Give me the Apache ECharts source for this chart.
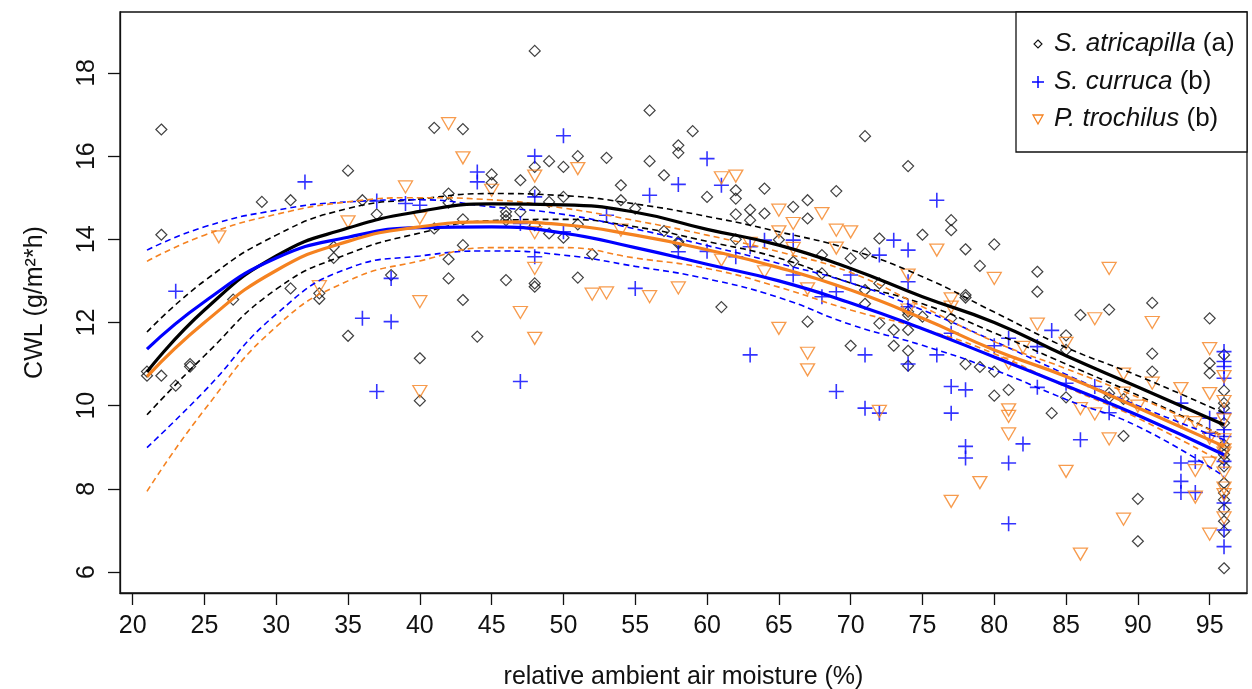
<!DOCTYPE html>
<html><head><meta charset="utf-8">
<script src="https://cdn.jsdelivr.net/npm/echarts@6/dist/echarts.min.js"></script>
<style>html,body{margin:0;padding:0;background:#fff}#c{width:1252px;height:689px}</style>
</head><body><div id="c"></div>
<script>
// ---- tick labels ----
const xTicks = [20,25,30,35,40,45,50,55,60,65,70,75,80,85,90,95];
const yTicks = [6,8,10,12,14,16,18];

// ---- observed points [air moisture %, CWL] ----
const atricapilla = [[21,10.82],[21,10.72],[22,16.64],[22,14.11],[22,10.72],[23,10.48],[24,11.0],[24,10.94],[27,12.55],[29,14.9],[31,14.94],[31,12.82],[33,12.7],[33,12.57],[34,13.82],[34,13.55],[35,15.65],[35,11.68],[36,14.94],[37,14.6],[38,13.14],
[40,11.14],[40,10.12],[41,16.68],[41,14.26],[42,15.1],[42,14.88],[42,13.52],[42,13.06],[43,16.65],[43,14.48],[43,13.86],[43,12.54],[44,11.66],[45,15.56],[45,15.36],[46,14.66],[46,14.56],[46,14.46],[46,13.02],[47,15.42],[47,14.66],[48,18.53],[48,15.74],[48,15.14],[48,14.34],[48,12.94],[48,12.86],[49,15.88],[49,14.9],[49,14.14],[50,15.74],[50,15.02],[50,14.04],[51,16.0],[51,14.36],[51,13.08],[52,13.64],[53,15.96],[54,15.3],[54,14.94],[55,14.74],[56,17.1],[56,15.88],[57,15.54],[57,14.2],[58,16.26],[58,16.08],[58,13.94],[58,13.9],[59,16.6],[60,15.02],[61,12.37],[62,15.18],[62,14.98],[62,14.6],[62,14.0],[63,14.71],[63,14.46],[64,15.22],[64,14.62],[65,13.99],[66,14.78],[66,13.46],[67,14.94],[67,14.5],[67,12.02],[68,13.62],[68,13.18],[69,15.16],[70,13.54],[70,11.44],[71,16.48],[71,13.66],[71,12.78],[71,12.45],[72,14.02],[72,12.94],[72,11.98],[73,11.82],[73,11.44],[74,15.76],[74,12.26],[74,12.18],[74,11.82],[74,11.32],[74,10.96],[75,14.11],[75,12.14],[77,14.46],[77,14.22],[77,12.1],[78,13.76],[78,12.66],[78,12.6],[78,11.0],[79,13.36],[79,10.93],[80,13.88],[80,10.82],[80,10.24],[81,10.38],[83,13.22],[83,12.74],[84,9.82],[85,11.69],[85,11.34],[85,10.2],[86,12.18],[88,12.31],[88,10.3],[88,10.2],[89,10.16],[89,9.27],[90,7.76],[90,6.74],[91,12.47],[91,11.25],[91,10.82],[95,12.1],[95,11.02],[95,10.78],[96,11.22],[96,10.36],[96,10.06],[96,9.94],[96,9.58],[96,9.06],[96,8.94],[96,8.82],[96,8.70],[96,8.54],[96,8.14],[96,7.9],[96,7.74],[96,7.5],[96,7.22],[96,6.97],[96,6.09]];

const curruca = [[23,12.75],[32,15.38],[36,12.1],[37,14.92],[37,10.34],[38,13.06],[38,12.02],[39,14.86],[40,14.82],[44,15.62],[44,15.38],[47,14.38],[47,10.58],[48,16.0],[48,15.02],[48,13.58],[50,16.49],[50,14.18],[53,14.58],[55,12.82],[56,15.06],[58,15.32],[58,13.7],[60,15.94],[60,13.71],[61,15.3],[62,13.58],[63,13.82],[63,11.22],[64,13.98],[66,13.98],[66,13.14],[68,12.62],[69,12.74],[69,10.34],[70,13.14],[71,11.22],[71,9.94],[72,13.62],[72,9.82],[73,13.98],[74,13.74],[74,12.98],[74,12.38],[74,11.0],[76,14.94],[76,11.22],[77,11.74],[77,10.46],[77,9.82],[78,10.38],[78,9.02],[78,8.74],[80,11.44],[81,11.62],[81,8.62],[81,7.16],[82,9.08],[83,11.42],[83,10.44],[84,11.81],[85,10.54],[86,9.18],[87,10.46],[88,9.83],[93,10.06],[93,8.62],[93,8.18],[93,7.91],[94,8.66],[94,7.91],[95,9.7],[95,9.34],[96,11.3],[96,11.06],[96,10.94],[96,10.66],[96,9.82],[96,9.42],[96,9.26],[96,8.66],[96,7.66],[96,7.01],[96,6.61]];

const trochilus = [[26,14.06],[33,12.86],[35,14.42],[39,15.26],[40,14.51],[40,12.5],[40,10.34],[42,16.78],[43,15.96],[45,15.18],[47,12.24],[48,15.52],[48,14.16],[48,13.3],[48,11.62],[51,15.7],[52,12.68],[53,12.71],[54,14.22],[56,12.62],[58,12.83],[61,15.48],[61,13.5],[62,15.52],[63,13.9],[64,13.22],[65,14.7],[65,14.18],[65,11.86],[66,14.38],[66,13.78],[67,12.81],[67,11.26],[67,10.86],[68,14.62],[69,14.22],[69,13.79],[70,14.18],[72,9.86],[74,13.14],[74,12.3],[76,13.74],[77,12.57],[77,12.37],[77,7.7],[79,8.15],[80,13.06],[81,11.02],[81,9.9],[81,9.74],[81,9.32],[82,11.4],[83,11.96],[85,11.5],[85,8.42],[86,9.93],[86,6.43],[87,12.09],[87,9.8],[88,13.3],[88,9.2],[89,10.76],[89,10.3],[89,7.27],[90,9.99],[91,12.0],[91,10.54],[93,10.41],[93,9.61],[94,9.59],[94,8.44],[94,7.8],[95,11.37],[95,10.29],[95,9.22],[95,8.62],[95,6.91],[96,10.7],[96,10.1],[96,9.66],[96,9.18],[96,8.94],[96,8.86],[96,8.38],[96,8.02],[96,7.86],[96,7.3]];

// ---- fitted curves and confidence bands (read at these x) ----
const fitX    = [21,25,30,35,40,45,50,55,60,65,70,75,80,85,90,96];
const atriFit = [10.81,12.3,13.6,14.27,14.67,14.85,14.83,14.65,14.24,13.86,13.3,12.62,12.0,11.2,10.45,9.54];
const atriHi  = [11.77,13.0,14.1,14.74,14.97,15.1,15.05,14.85,14.55,14.18,13.75,13.1,12.25,11.4,10.72,9.82];
const atriLo  = [9.78,11.2,12.8,13.65,14.15,14.45,14.48,14.3,13.95,13.55,12.95,12.45,11.75,11.0,10.25,9.26];
const curFit  = [11.36,12.5,13.55,14.05,14.28,14.3,14.15,13.8,13.4,13.0,12.47,11.85,11.17,10.48,9.77,8.82];
const curHi   = [13.74,14.3,14.7,14.9,14.95,14.78,14.6,14.25,13.85,13.42,12.95,12.3,11.55,10.75,10.0,9.18];
const curLo   = [8.99,10.35,12.2,13.3,13.6,13.72,13.62,13.35,13.05,12.6,11.95,11.45,10.86,10.15,9.5,8.30];
const troFit  = [10.7,12.0,13.25,13.95,14.3,14.42,14.35,14.1,13.75,13.32,12.78,12.1,11.34,10.7,9.95,9.02];
const troHi   = [13.47,14.1,14.6,14.9,15.0,14.95,14.75,14.45,14.1,13.7,13.2,12.38,11.54,10.89,10.2,9.26];
const troLo   = [7.94,9.9,11.9,13.0,13.48,13.8,13.8,13.55,13.3,12.85,12.3,11.85,11.25,10.45,9.7,8.62];

const BLACK = '#000000', BLUE = '#0000FF', ORANGE = '#F58220';
const FONT = '"Liberation Sans", Arial, sans-serif';

const diamondSym = 'path://M0,-1L1,0L0,1L-1,0Z';
const plusSym = 'path://M0,-1L0,1M-1,0L1,0';
const triSym = 'path://M-1,-0.85L1,-0.85L0,0.85Z';

function pts(arr){ return fitX.map((x,i)=>[x,arr[i]]); }
function fitLine(arr,color,dashed){
  return {type:'line', data:pts(arr), showSymbol:false, symbol:'none', smooth:0.5,
    silent:true, z:3,
    lineStyle: dashed ? {color, width:1.6, type:[6,4]} : {color, width:3.2}};
}
function scatter(data,sym,size,color,bw){
  return {type:'scatter', data, symbol:sym, symbolSize:size, silent:true, z:2,
    itemStyle:{color:'rgba(0,0,0,0)', borderColor:color, borderWidth:bw}};
}

const chart = echarts.init(document.getElementById('c'), null, {renderer:'canvas'});
chart.setOption({
  animation:false,
  backgroundColor:'#fff',
  grid:{left:120, right:5, top:12, bottom:96, outerBoundsMode:'none', containLabel:false,
    show:true, borderColor:'#111', borderWidth:1.3, backgroundColor:'rgba(0,0,0,0)'},
  xAxis:{type:'value', min:19.12, max:97.6,
    axisLine:{show:true, onZero:false, lineStyle:{color:'#111', width:1.3}},
    splitLine:{show:false},
    axisTick:{show:true, customValues:xTicks, length:12, lineStyle:{color:'#111', width:1.3}},
    axisLabel:{customValues:xTicks, fontSize:25, color:'#111', margin:21, fontFamily:FONT},
    name:'relative ambient air moisture (%)', nameLocation:'middle', nameGap:72,
    nameTextStyle:{fontSize:25, color:'#111', fontFamily:FONT}
  },
  yAxis:{type:'value', min:5.495, max:19.466,
    axisLine:{show:true, onZero:false, lineStyle:{color:'#111', width:1.3}},
    splitLine:{show:false},
    axisTick:{show:true, customValues:yTicks, length:12, lineStyle:{color:'#111', width:1.3}},
    axisLabel:{customValues:yTicks, fontSize:25, color:'#111', margin:20, rotate:90, fontFamily:FONT},
    name:'CWL (g/m²*h)', nameLocation:'middle', nameGap:72, nameRotate:90,
    nameTextStyle:{fontSize:25, color:'#111', fontFamily:FONT}
  },
  series:[
    scatter(atricapilla, diamondSym, [11,11], '#111', 1.2),
    scatter(curruca, plusSym, [15,15], BLUE, 1.6),
    scatter(trochilus, triSym, [14,12], ORANGE, 1.3),
    fitLine(atriHi, BLACK, true), fitLine(atriLo, BLACK, true),
    fitLine(curHi, BLUE, true), fitLine(curLo, BLUE, true),
    fitLine(troHi, ORANGE, true), fitLine(troLo, ORANGE, true),
    fitLine(atriFit, BLACK, false), fitLine(curFit, BLUE, false), fitLine(troFit, ORANGE, false)
  ],
  graphic:[
    {type:'rect', shape:{x:1016, y:12, width:231, height:140}, style:{fill:'#fff', stroke:'#111', lineWidth:1.3}, z:10},
    {type:'polygon', shape:{points:[[1038,40],[1042,44],[1038,48],[1034,44]]}, style:{fill:'none', stroke:'#111', lineWidth:1.1}, z:11},
    {type:'polyline', shape:{points:[[1032,82],[1044,82]]}, style:{stroke:BLUE, lineWidth:1.5}, z:11},
    {type:'polyline', shape:{points:[[1038,76],[1038,88]]}, style:{stroke:BLUE, lineWidth:1.5}, z:11},
    {type:'polygon', shape:{points:[[1033,115],[1043,115],[1038,124]]}, style:{fill:'none', stroke:ORANGE, lineWidth:1.3}, z:11},
    {type:'text', x:1054, y:44, z:11, style:{text:'{i|S. atricapilla} (a)', verticalAlign:'middle', font:'26px '+FONT, fill:'#111', rich:{i:{fontStyle:'italic', fontSize:26, fontFamily:FONT, fill:'#111'}}}},
    {type:'text', x:1054, y:82, z:11, style:{text:'{i|S. curruca} (b)', verticalAlign:'middle', font:'26px '+FONT, fill:'#111', rich:{i:{fontStyle:'italic', fontSize:26, fontFamily:FONT, fill:'#111'}}}},
    {type:'text', x:1054, y:119, z:11, style:{text:'{i|P. trochilus} (b)', verticalAlign:'middle', font:'26px '+FONT, fill:'#111', rich:{i:{fontStyle:'italic', fontSize:26, fontFamily:FONT, fill:'#111'}}}}
  ]
});
</script>
</body></html>
